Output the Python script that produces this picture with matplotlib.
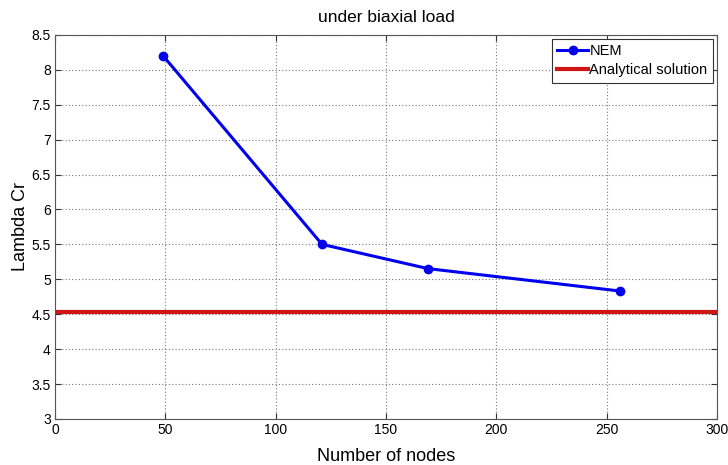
import matplotlib
matplotlib.use("Agg")
import matplotlib.pyplot as plt

nodes = [49, 121, 169, 256]
lambda_nem = [8.2, 5.5, 5.153, 4.832]
lambda_exact = 4.537

xticks = [0, 50, 100, 150, 200, 250, 300]
yticks = [3, 3.5, 4, 4.5, 5, 5.5, 6, 6.5, 7, 7.5, 8, 8.5]

plt.rcParams['font.family'] = ['Liberation Sans', 'DejaVu Sans']

fig = plt.figure(figsize=(7.28, 4.65), dpi=100)
ax = fig.add_axes([0.0755, 0.099, 0.9095, 0.826])

ax.plot(nodes, lambda_nem, color='#0000ee', lw=2.2, marker='o', ms=6, label='NEM', zorder=3)
ax.axhline(lambda_exact, color='#d01515', lw=3, label='Analytical solution', zorder=2)

ax.set_xlim(0, 300)
ax.set_ylim(3, 8.5)
ax.set_xticks(xticks)
ax.set_yticks(yticks)
ax.set_yticklabels([('%g' % v) for v in yticks])
ax.tick_params(direction='in', top=True, right=True, labelsize=10, length=4, pad=3, colors='#333333')
ax.tick_params(labelcolor='black')
for s in ax.spines.values():
    s.set_color('#555555')
ax.grid(True, ls=(0, (1, 2)), color='#777777', lw=0.8)

ax.set_title('under biaxial load', fontsize=12.5, pad=9)
ax.set_xlabel('Number of nodes', fontsize=13, labelpad=8)
ax.set_ylabel('Lambda Cr', fontsize=13, labelpad=2)

leg = ax.legend(loc='upper right', fontsize=10.5, fancybox=False, framealpha=1,
                edgecolor='#333333', borderpad=0.35, labelspacing=0.35,
                handlelength=2.1, handletextpad=0.1, borderaxespad=0.3)
leg.get_frame().set_linewidth(0.8)

fig.savefig('out.png', dpi=100)
